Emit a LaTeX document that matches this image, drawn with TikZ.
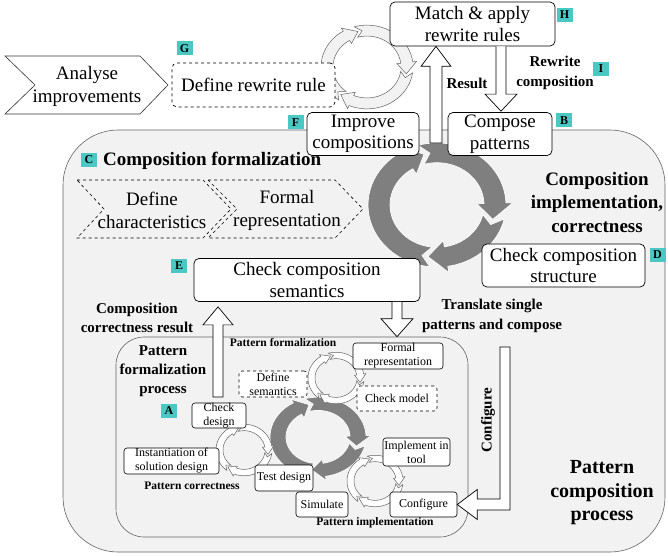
\documentclass[tikz,border=0pt]{standalone}
\usepackage{fontspec}
\setmainfont{Liberation Serif}
\usetikzlibrary{calc}
\definecolor{tealb}{RGB}{75,200,195}
\definecolor{regfill}{RGB}{242,242,242}
\definecolor{darkcyc}{RGB}{127,127,127}
\definecolor{edgegray}{RGB}{100,100,100}
\newcommand\cycarr[6]{%
  \pgfmathsetmacro\cyMid{(#1+#2)/2}%
  \pgfmathsetmacro\cyW{(#2-#1)*0.32}%
  \pgfmathsetmacro\cyH{#4-#6}%
  \pgfmathsetmacro\cyN{#3+#6*0.5}%
  \pgfmathsetmacro\cyOut{#2+\cyW}%
  \pgfmathsetmacro\cyIn{#1-\cyW}%
  \filldraw[#5] plot[domain=#3:\cyH,samples=30] ({#2*cos(\x)},{#2*sin(\x)})
    -- ({\cyOut*cos(\cyH)},{\cyOut*sin(\cyH)})
    -- ({\cyMid*cos(#4)},{\cyMid*sin(#4)})
    -- ({\cyIn*cos(\cyH)},{\cyIn*sin(\cyH)})
    -- plot[domain=#3:\cyH,samples=30] ({#1*cos(#3+\cyH-\x)},{#1*sin(#3+\cyH-\x)})
    -- ({\cyMid*cos(\cyN)},{\cyMid*sin(\cyN)})
    -- cycle;
}
\begin{document}
\begin{tikzpicture}[x=1pt,y=-1pt,
  box/.style={draw, rounded corners=5pt, fill=white, align=center, inner sep=0pt, line width=0.7pt, font=\fontsize{19}{21.5}\selectfont},
  sbox/.style={draw, rounded corners=3pt, fill=white, align=center, inner sep=0pt, line width=0.6pt, font=\fontsize{12}{14}\selectfont},
  badge/.style={fill=tealb, font=\bfseries\fontsize{12}{12}\selectfont, minimum width=16pt, minimum height=14pt, inner sep=0pt},
  lab/.style={font=\bfseries\fontsize{15}{19.5}\selectfont, align=center, inner sep=0pt},
  biglab/.style={font=\bfseries\fontsize{19}{23.5}\selectfont, align=center, inner sep=0pt},
  slab/.style={font=\bfseries\fontsize{11.5}{13}\selectfont, inner sep=0pt},
  chev/.style={line width=0.6pt},
  barrow/.style={draw, fill=white, line width=0.7pt, line join=miter},
  darkarr/.style={fill=darkcyc, draw=white, line width=0.7pt},
  lightarr/.style={fill=regfill, draw=edgegray, line width=0.5pt},
  lightarrw/.style={fill=white, draw=edgegray, line width=0.5pt},
  region/.style={draw=edgegray, fill=regfill, line width=0.6pt, inner sep=0pt}
]
\useasboundingbox (0,0) rectangle (668,556);
\fill[white] (0,0) rectangle (668,556);

% outer region
\node[region, rounded corners=55pt, minimum width=602, minimum height=422] (outer) at (364,341) {};

% top light cycle
\begin{scope}[shift={(367,67)}, yscale=0.91]
  \cycarr{34}{46}{128}{257}{lightarr}{18}
  \cycarr{34}{46}{254}{371}{lightarr}{18}
  \cycarr{34}{46}{8}{131}{lightarr}{18}
\end{scope}

% big dark cycle
\begin{scope}[shift={(437,205)}, yscale=0.9]
  \cycarr{47}{69}{96}{257}{darkarr}{18}
  \cycarr{47}{69}{254}{376}{darkarr}{18}
  \cycarr{47}{69}{13}{99}{darkarr}{18}
\end{scope}

% inner region
\node[region, rounded corners=28pt, minimum width=352, minimum height=200] (inner) at (292,437) {};

% inner dark cycle
\begin{scope}[shift={(318,437)}, yscale=0.83]
  \cycarr{32}{48}{96}{257}{darkarr}{18}
  \cycarr{32}{48}{254}{376}{darkarr}{18}
  \cycarr{32}{48}{13}{99}{darkarr}{18}
\end{scope}
% small light cycles
\foreach \cx/\cy in {336/378, 244/450, 375/481}{
\begin{scope}[shift={(\cx,\cy)}, yscale=0.92]
  \cycarr{21}{28}{128}{257}{lightarrw}{20}
  \cycarr{21}{28}{254}{371}{lightarrw}{20}
  \cycarr{21}{28}{8}{131}{lightarrw}{20}
\end{scope}}

% Analyse improvements chevron
\draw[chev, draw=black!80, fill=white] (5,56) -- (140,56) -- (168,85) -- (140,114) -- (5,114) -- (35,85) -- cycle;
\node[align=center, inner sep=0pt, font=\fontsize{19}{23}\selectfont] (analyse) at (87,86) {Analyse\\improvements};

% dashed chevrons
\draw[chev, dashed] (77,180) -- (203,180) -- (231,209) -- (203,238) -- (77,238) -- (104,209) -- cycle;
\draw[chev, dashed] (208,180) -- (335,180) -- (363,209) -- (335,238) -- (208,238) -- (237,209) -- cycle;
\node[align=center, inner sep=0pt, font=\fontsize{19}{23}\selectfont] (defchar) at (152,210) {Define\\characteristics};
\node[align=center, inner sep=0pt, font=\fontsize{19}{23}\selectfont] (formrep) at (287,210) {Formal\\representation};

% main boxes
\node[box, dashed, minimum width=163, minimum height=44] (defrule) at (253.5,85) {Define rewrite rule};
\node[box, minimum width=165, minimum height=44] (match) at (472.5,24) {Match \& apply\\rewrite rules};
\node[box, minimum width=112, minimum height=43] (improve) at (363,134) {Improve\\compositions};
\node[box, minimum width=104, minimum height=43] (compose) at (500,134) {Compose\\patterns};
\node[box, minimum width=163, minimum height=43] (structure) at (563.5,265.5) {Check composition\\structure};
\node[box, minimum width=226, minimum height=43] (semantics) at (307,280) {Check composition\\semantics};

% small boxes
\node[sbox, minimum width=54, minimum height=25] (checkdesign) at (219,415.5) {Check\\design};
\node[sbox, dashed, minimum width=68, minimum height=26] (defsem) at (273,384) {Define\\semantics};
\node[sbox, minimum width=90, minimum height=26] (formalrep) at (398,356) {Formal\\representation};
\node[sbox, dashed, minimum width=80, minimum height=25] (checkmodel) at (397,398.5) {Check model};
\node[sbox, minimum width=67, minimum height=28] (impl) at (416.5,452) {Implement in\\tool};
\node[sbox, minimum width=67, minimum height=25] (configure) at (423.5,504.5) {Configure};
\node[sbox, minimum width=52, minimum height=25] (simulate) at (322,504.5) {Simulate};
\node[sbox, minimum width=58, minimum height=26] (testdesign) at (284,478) {Test design};
\node[sbox, minimum width=95, minimum height=26] (inst) at (171.5,461) {Instantiation of\\solution design};

% block arrows
\coordinate (resTail) at (436,143);
\coordinate (resTip) at (match.south -| resTail);
\draw[barrow] ($(resTail)+(-6,0)$) -- ($(resTip)+(-6,20)$) -- ($(resTip)+(-15,20)$) -- (resTip) -- ($(resTip)+(15,20)$) -- ($(resTip)+(6,20)$) -- ($(resTail)+(6,0)$) -- cycle;

\coordinate (rwx) at (501,0);
\coordinate (rwTail) at (match.south -| rwx);
\coordinate (rwTip) at ($(compose.north -| rwx)+(0,-1)$);
\draw[barrow] ($(rwTail)+(-5,0)$) -- ($(rwTip)+(-5,-17)$) -- ($(rwTip)+(-16,-17)$) -- (rwTip) -- ($(rwTip)+(16,-17)$) -- ($(rwTip)+(5,-17)$) -- ($(rwTail)+(5,0)$);

\coordinate (trx) at (397,0);
\coordinate (trTail) at (semantics.south -| trx);
\coordinate (trTip) at (inner.north -| trx);
\draw[barrow] ($(trTail)+(-5,0)$) -- ($(trTip)+(-5,-18)$) -- ($(trTip)+(-16,-18)$) -- (trTip) -- ($(trTip)+(16,-18)$) -- ($(trTip)+(5,-18)$) -- ($(trTail)+(5,0)$);

\coordinate (corrTail) at (218,397);
\coordinate (corrTip) at ($(semantics.south -| corrTail)+(0,5)$);
\draw[barrow] ($(corrTail)+(-5,0)$) -- ($(corrTip)+(-5,18)$) -- ($(corrTip)+(-15,18)$) -- (corrTip) -- ($(corrTip)+(15,18)$) -- ($(corrTip)+(5,18)$) -- ($(corrTail)+(5,0)$) -- cycle;

\coordinate (cfgTop) at (505,347);
\coordinate (cfgCorner) at (cfgTop |- configure.east);
\draw[barrow] ($(cfgTop)+(-5,0)$) -- ($(cfgTop)+(5,0)$) -- ($(cfgCorner)+(5,5.5)$) -- ($(configure.east)+(20,5.5)$) -- ($(configure.east)+(20,15)$) -- (configure.east) -- ($(configure.east)+(20,-15)$) -- ($(configure.east)+(20,-5.5)$) -- ($(cfgCorner)+(-5,-5.5)$) -- cycle;

% labels
\node[lab] (lres) at (467,83) {Result};
\node[lab] (lrw) at (555,73) {Rewrite\\composition};
\node[lab] (ltr) at (492,316) {Translate single\\patterns and compose};
\node[lab] (lcorr) at (137,318) {Composition\\correctness result};
\node[lab, font=\bfseries\fontsize{15}{19}\selectfont] (lpfp) at (163,371) {Pattern\\formalization\\process};
\node[lab, rotate=90] (lcfg) at (488,420) {Configure};
\node[biglab, anchor=west] (lcf) at (103,161) {Composition formalization};
\node[biglab] (lcic) at (597,202) {Composition\\implementation,\\correctness};
\node[biglab, font=\bfseries\fontsize{20}{23.5}\selectfont] (lpcp) at (602,493) {Pattern\\composition\\process};
\node[slab] (lpf) at (283,343) {Pattern formalization};
\node[slab] (lpc) at (192,486) {Pattern correctness};
\node[slab] (lpi) at (375,523) {Pattern implementation};

% badges
\node[badge] (bG) at (184.5,48.5) {G};
\node[badge] (bH) at (564.5,15) {H};
\node[badge] (bI) at (601,69) {I};
\node[badge] (bF) at (295.5,122.5) {F};
\node[badge] (bB) at (564,120.5) {B};
\node[badge] (bC) at (89,160) {C};
\node[badge] (bD) at (657.5,254.5) {D};
\node[badge] (bE) at (179,266) {E};
\node[badge] (bA) at (169,411) {A};
\end{tikzpicture}
\end{document}
